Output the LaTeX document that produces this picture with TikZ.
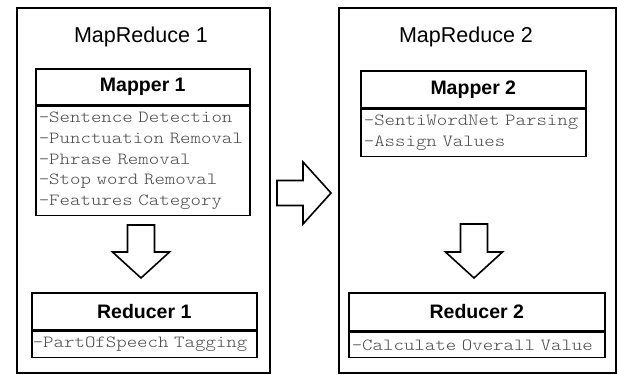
\documentclass[tikz,border=0pt]{standalone}
\usepackage{fontspec}
\setmainfont{Liberation Sans}
\setmonofont{lmmonolt10-regular.otf}[FakeStretch=1.17]
\definecolor{itemgray}{HTML}{4a4a4a}
\newcommand{\itemfont}{\fontsize{17}{20.8}\selectfont\ttfamily
  \spaceskip=\fontcharwd\font`\x\relax\xspaceskip=\spaceskip}
\begin{document}
\begin{tikzpicture}[x=1pt,y=-1pt,
  outer/.style={draw, line width=1.8pt, anchor=north west, inner sep=0pt},
  hdr/.style={draw, line width=1.6pt, anchor=north west, inner sep=0pt,
    font=\fontsize{19.5}{22}\selectfont\bfseries},
  body/.style={draw, line width=1.6pt, anchor=north, inner xsep=3pt, inner ysep=0pt,
    align=left, text=itemgray, font=\itemfont},
  title/.style={font=\fontsize{21.5}{24}\selectfont, inner sep=0pt},
  blockarrow/.style={draw, line width=1.6pt, line join=miter, fill=white}
]
\useasboundingbox (0,0) rectangle (617,374);

% MapReduce 1
\node[outer, minimum width=253pt, minimum height=365pt] (mr1) at (16,7) {};
\node[title] (t1) at (141,37) {MapReduce 1};
\node[hdr, minimum width=214pt, minimum height=36pt] (m1h) at (35,68) {Mapper 1};
\node[body, minimum width=214pt, minimum height=109pt, text width=208pt] (m1b) at (m1h.south)
  {-Sentence Detection\\-Punctuation Removal\\-Phrase Removal\\-Stop word Removal\\-Features Category};
\node[hdr, minimum width=225pt, minimum height=37pt] (r1h) at (31,292) {Reducer 1};
\node[body, minimum width=225pt, minimum height=26pt, text width=223pt, inner xsep=1pt] (r1b) at (r1h.south)
  {-PartOfSpeech Tagging};

% MapReduce 2
\node[outer, minimum width=277pt, minimum height=365pt] (mr2) at (338,7) {};
\node[title] (t2) at (466,37) {MapReduce 2};
\node[hdr, minimum width=225pt, minimum height=37pt] (m2h) at (360,70) {Mapper 2};
\node[body, minimum width=225pt, minimum height=47pt, text width=219pt] (m2b) at (m2h.south)
  {-SentiWordNet Parsing\\-Assign Values};
\node[hdr, minimum width=256pt, minimum height=38pt] (r2h) at (348,292) {Reducer 2};
\node[body, minimum width=256pt, minimum height=25pt, text width=250pt] (r2b) at (r2h.south)
  {-Calculate Overall Value};

% block arrows
\coordinate (a1) at (141,278);
\draw[blockarrow] (a1) -- ++(-28.5,-26) -- ++(15,0) -- ++(0,-27) -- ++(27,0)
  -- ++(0,27) -- ++(15,0) -- cycle;
\coordinate (a2) at (474,278);
\draw[blockarrow] (a2) -- ++(-28.5,-26) -- ++(15,0) -- ++(0,-28) -- ++(27,0)
  -- ++(0,28) -- ++(15,0) -- cycle;
\coordinate (a3) at (331,193);
\draw[blockarrow] (a3) -- ++(-28,-31) -- ++(0,18.5) -- ++(-26,0) -- ++(0,25)
  -- ++(26,0) -- ++(0,18.5) -- cycle;
\end{tikzpicture}
\end{document}
